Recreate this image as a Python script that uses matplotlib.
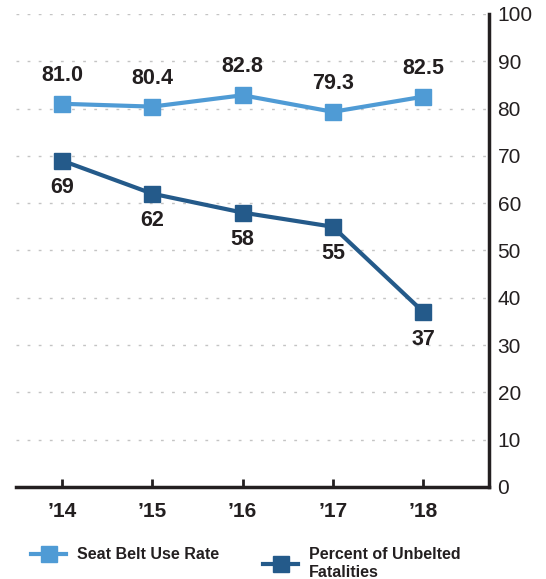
import matplotlib
matplotlib.use("Agg")
import matplotlib.pyplot as plt
from matplotlib.lines import Line2D

years = ["\u201914", "\u201915", "\u201916", "\u201917", "\u201918"]
belt_use = [81.0, 80.4, 82.8, 79.3, 82.5]
unbelted = [69, 62, 58, 55, 37]
belt_labels = ["81.0", "80.4", "82.8", "79.3", "82.5"]
unbelted_labels = ["69", "62", "58", "55", "37"]
yticks = [0, 10, 20, 30, 40, 50, 60, 70, 80, 90, 100]

light = "#4f9bd5"
dark = "#245a8a"
txt = "#231f20"

plt.rcParams['font.family'] = ['Liberation Sans', 'DejaVu Sans']

fig = plt.figure(figsize=(5.46, 5.79), dpi=100)
ax = fig.add_axes([0.029, 0.159, 0.867, 0.817])

x = list(range(len(years)))
ax.plot(x, belt_use, color=light, lw=3, marker='s', ms=11, zorder=3)
ax.plot(x, unbelted, color=dark, lw=3, marker='s', ms=11, zorder=3)

for xi, v, l in zip(x, belt_use, belt_labels):
    ax.annotate(l, (xi, v), xytext=(0, 13), textcoords='offset points',
                ha='center', va='bottom', fontsize=15.5, fontweight='bold', color=txt)
for xi, v, l in zip(x, unbelted, unbelted_labels):
    ax.annotate(l, (xi, v), xytext=(0, -12), textcoords='offset points',
                ha='center', va='top', fontsize=15.5, fontweight='bold', color=txt)

ax.set_xlim(-0.51, 4.73)
ax.set_ylim(0, 100)
ax.set_yticks(yticks)
ax.yaxis.tick_right()
ax.tick_params(axis='y', length=0, pad=6, labelsize=15, labelcolor=txt)
ax.set_xticks(x)
ax.set_xticklabels(years, fontsize=15, fontweight='bold', color=txt)
ax.tick_params(axis='x', direction='in', length=6, width=2, color=txt, pad=11)

for yv in yticks[1:]:
    ax.axhline(yv, color='#c4c4c4', lw=1, ls=(0, (2, 6)), zorder=1)

ax.spines['top'].set_visible(False)
ax.spines['left'].set_visible(False)
ax.spines['right'].set_linewidth(2.5)
ax.spines['bottom'].set_linewidth(2.5)
ax.spines['right'].set_color(txt)
ax.spines['bottom'].set_color(txt)

h1 = Line2D([], [], color=light, lw=3, marker='s', ms=11)
h2 = Line2D([], [], color=dark, lw=3, marker='s', ms=11)
fig.legend([h1], ["Seat Belt Use Rate"], loc='upper left', bbox_to_anchor=(0.045, 0.066),
           frameon=False, prop={'size': 11.5, 'weight': 'bold'}, handlelength=2.2,
           handletextpad=0.7, borderaxespad=0)
fig.legend([h2], ["Percent of Unbelted\nFatalities"], loc='upper left', bbox_to_anchor=(0.47, 0.066),
           frameon=False, prop={'size': 11.5, 'weight': 'bold'}, handlelength=2.2,
           handletextpad=0.7, borderaxespad=0)
for leg in fig.legends:
    for t in leg.get_texts():
        t.set_color(txt)
        t.set_linespacing(1.25)

fig.savefig("out.png", dpi=100)
